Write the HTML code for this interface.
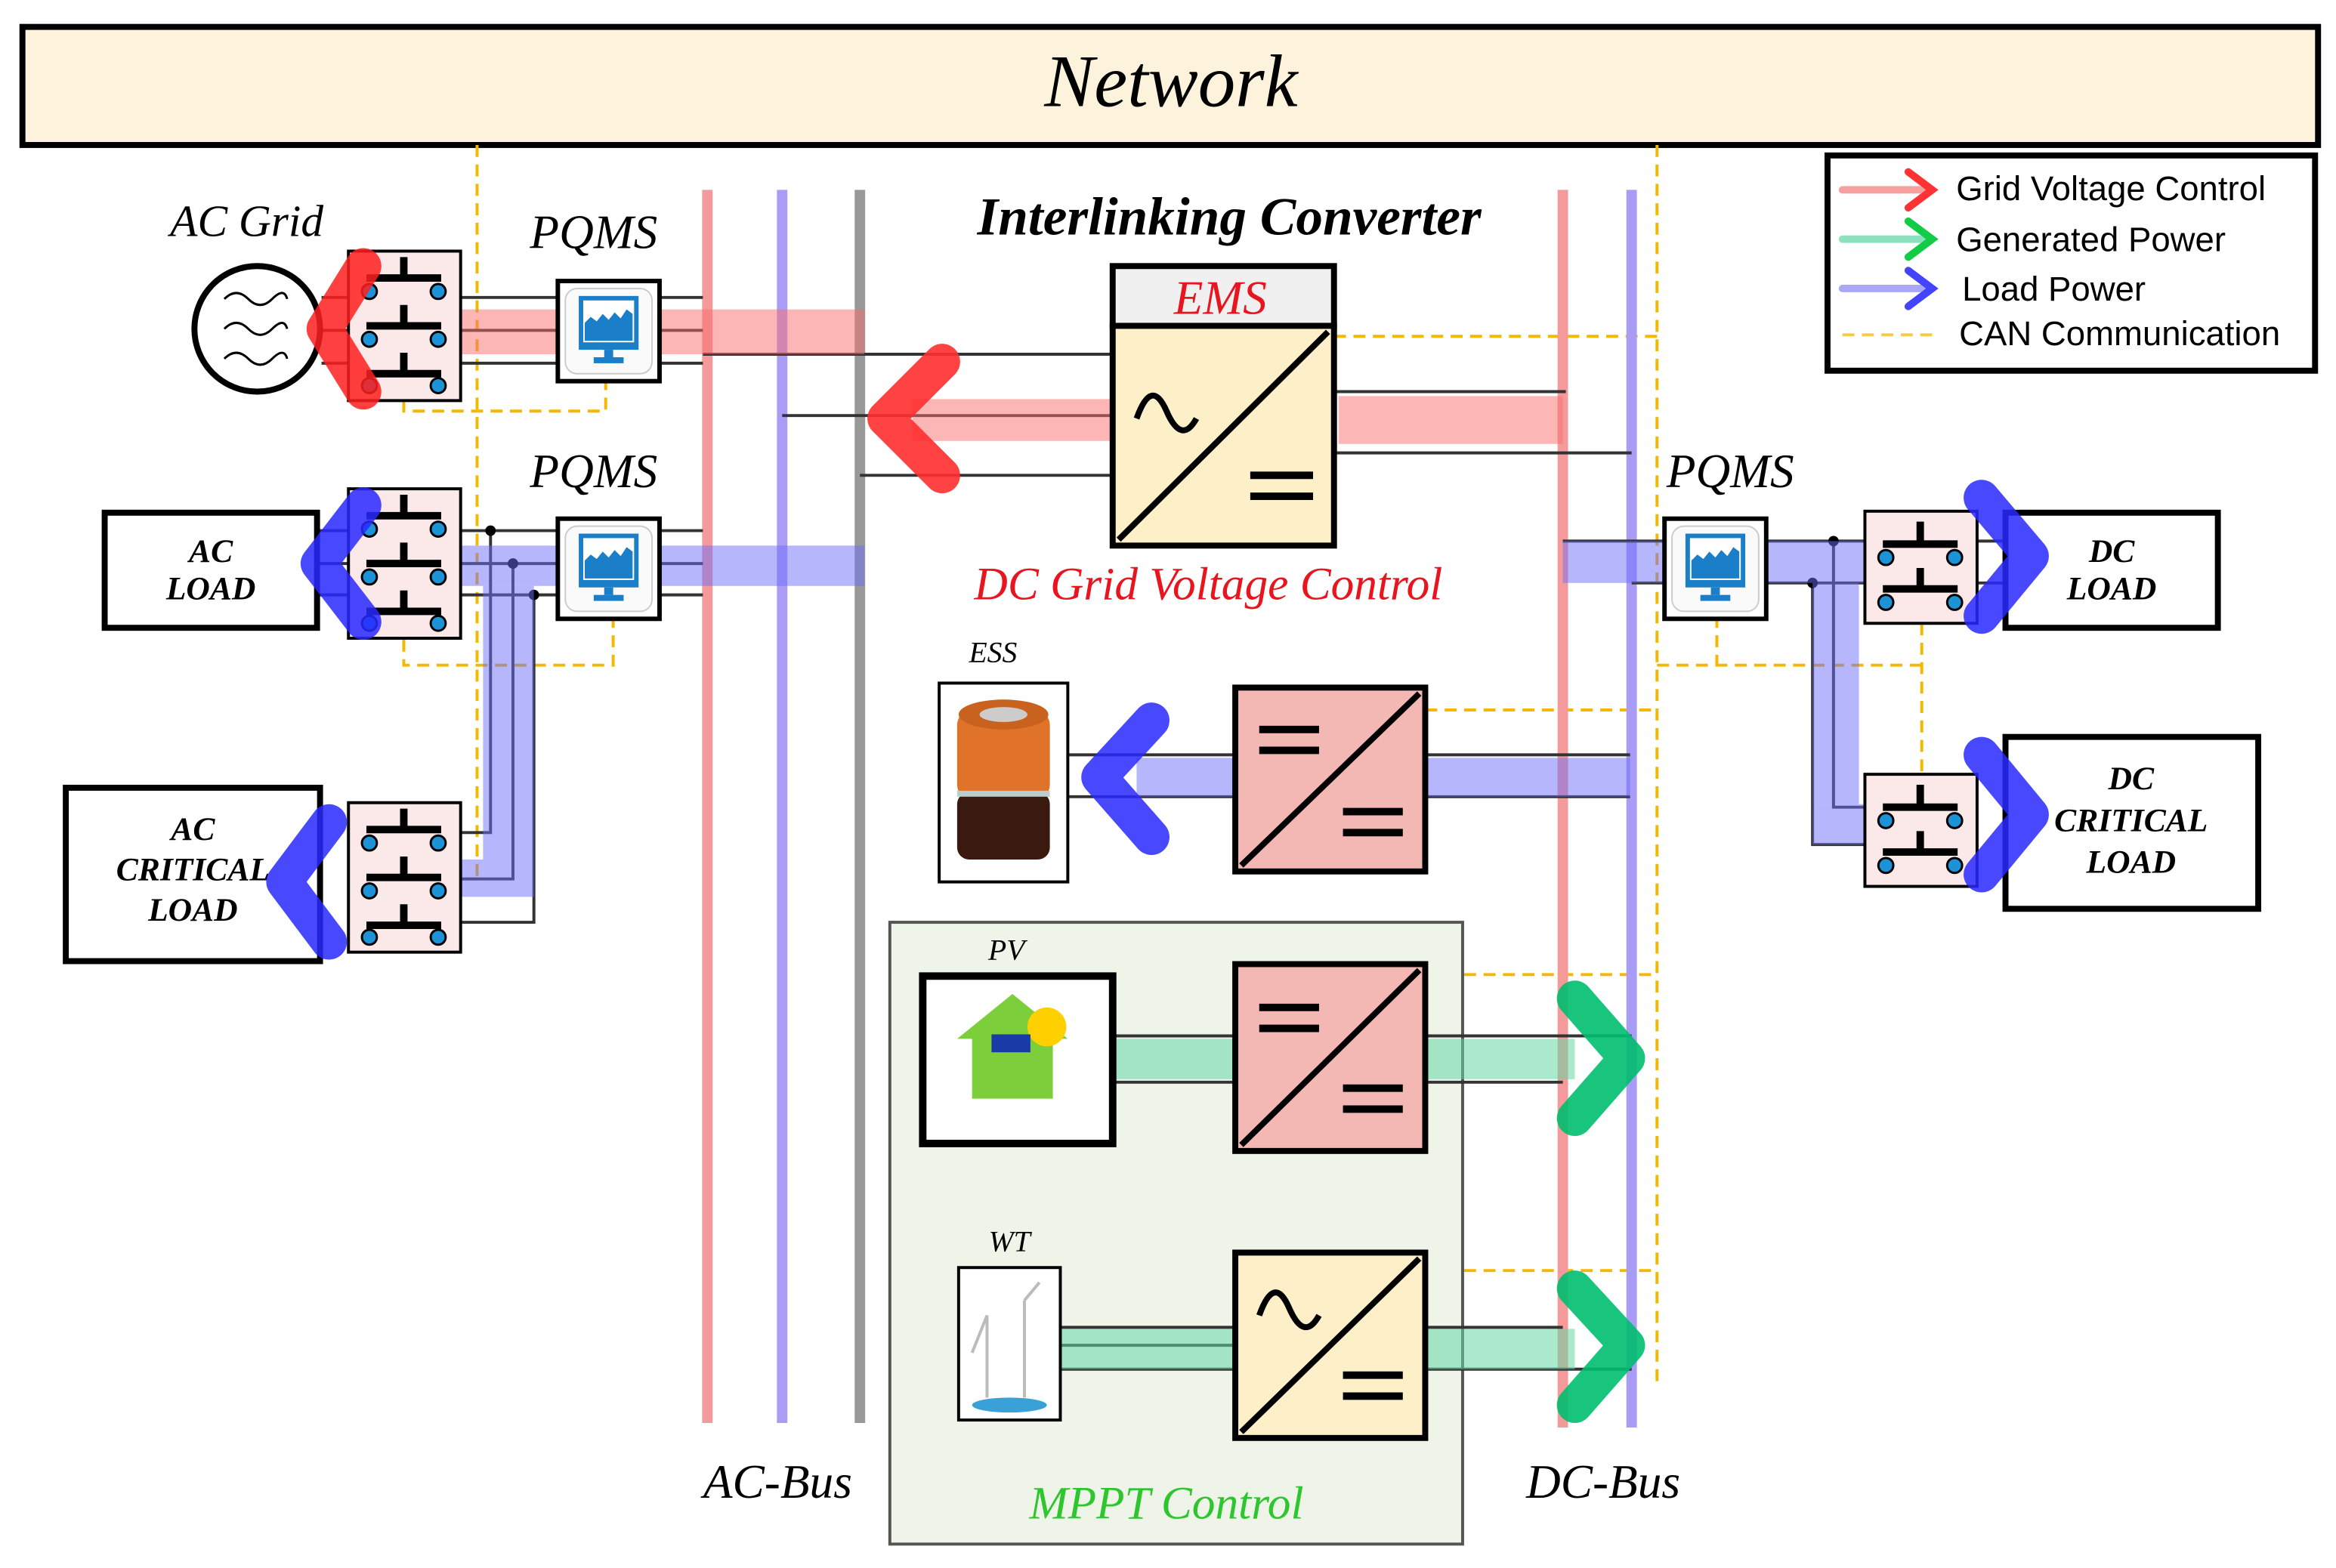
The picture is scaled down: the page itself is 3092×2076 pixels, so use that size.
<!DOCTYPE html>
<html><head><meta charset="utf-8"><style>
html,body{margin:0;padding:0;background:#fff}
svg{display:block}
text{font-family:"Liberation Serif",serif;font-style:italic;font-weight:bold}
.l{font-family:"Liberation Sans",sans-serif;font-style:normal;font-weight:normal}
</style></head><body>
<svg width="3092" height="2076" viewBox="0 0 1562 1049" preserveAspectRatio="none" xmlns="http://www.w3.org/2000/svg">
<defs>
<g id="sw3">
<rect x="0" y="0" width="75" height="100" fill="#fbe9e9" stroke="#000" stroke-width="2"/>
<g stroke="#000" stroke-width="5"><line x1="37" y1="4" x2="37" y2="18"/><line x1="12" y1="18" x2="62" y2="18"/>
<line x1="37" y1="36" x2="37" y2="50"/><line x1="12" y1="50" x2="62" y2="50"/>
<line x1="37" y1="68" x2="37" y2="82"/><line x1="12" y1="82" x2="62" y2="82"/></g>
<g fill="#1b93d6" stroke="#000" stroke-width="1.5"><circle cx="14" cy="27" r="5"/><circle cx="60" cy="27" r="5"/><circle cx="14" cy="59" r="5"/><circle cx="60" cy="59" r="5"/><circle cx="14" cy="90" r="5"/><circle cx="60" cy="90" r="5"/></g>
</g>
<g id="sw2">
<rect x="0" y="0" width="75" height="75" fill="#fbe9e9" stroke="#000" stroke-width="2"/>
<g stroke="#000" stroke-width="5"><line x1="37" y1="7" x2="37" y2="22"/><line x1="12" y1="22" x2="62" y2="22"/>
<line x1="37" y1="38" x2="37" y2="52"/><line x1="12" y1="52" x2="62" y2="52"/></g>
<g fill="#1b93d6" stroke="#000" stroke-width="1.5"><circle cx="14" cy="31" r="5"/><circle cx="60" cy="31" r="5"/><circle cx="14" cy="61" r="5"/><circle cx="60" cy="61" r="5"/></g>
</g>
<g id="mon">
<rect x="0" y="0" width="68" height="67" fill="#fff" stroke="#000" stroke-width="3"/>
<rect x="5" y="5" width="58" height="57" rx="8" fill="#fafafa" stroke="#ccc"/>
<rect x="14" y="10" width="40" height="36" fill="#1a7fc8"/>
<rect x="17" y="13" width="34" height="28" fill="#fff"/>
<path d="M18 40 L18 28 L22 24 L26 27 L30 22 L34 26 L38 21 L42 25 L46 19 L50 22 L50 40Z" fill="#1a7fc8"/>
<rect x="31" y="46" width="6" height="5" fill="#1a7fc8"/><rect x="24" y="51" width="20" height="4" fill="#1a7fc8"/>
</g>
</defs>

<!-- Network -->
<rect x="15" y="18" width="1535" height="79" fill="#fdf3dc" stroke="#000" stroke-width="4"/>
<text x="783" y="71" text-anchor="middle" font-size="50" style="font-weight:normal">Network</text>

<!-- dashed CAN -->
<g stroke="#f5b800" stroke-width="2" stroke-dasharray="8 5" fill="none">
<line x1="319" y1="97" x2="319" y2="590"/><line x1="319" y1="588" x2="308" y2="588"/>
<polyline points="270,268 270,275 405,275 405,255"/>
<polyline points="270,428 270,445 410,445 410,412"/>
<line x1="1108" y1="97" x2="1108" y2="925"/>
<line x1="892" y1="225" x2="1108" y2="225"/>
<line x1="953" y1="475" x2="1108" y2="475"/>
<line x1="953" y1="652" x2="1108" y2="652"/>
<line x1="953" y1="850" x2="1108" y2="850"/>
<line x1="1108" y1="445" x2="1285" y2="445"/>
<line x1="1148" y1="412" x2="1148" y2="445"/>
<line x1="1285" y1="417" x2="1285" y2="518"/>
</g>

<!-- MPPT box -->
<rect x="595" y="617" width="383" height="416" fill="#eef4e8" stroke="#555" stroke-width="2"/>

<!-- buses -->
<g stroke-width="7">
<line x1="473" y1="127" x2="473" y2="952" stroke="#f59a9a"/>
<line x1="523" y1="127" x2="523" y2="952" stroke="#a89cf5"/>
<line x1="575" y1="127" x2="575" y2="952" stroke="#999"/>
<line x1="1045" y1="127" x2="1045" y2="955" stroke="#f59a9a"/>
<line x1="1091" y1="127" x2="1091" y2="955" stroke="#a89cf5"/>
</g>

<!-- thin lines -->
<g stroke="#333" stroke-width="2" fill="none">
<line x1="215" y1="199" x2="470" y2="199"/><line x1="215" y1="221" x2="470" y2="221"/><line x1="215" y1="243" x2="470" y2="243"/>
<line x1="470" y1="237" x2="744" y2="237"/><line x1="523" y1="278" x2="744" y2="278"/><line x1="575" y1="318" x2="744" y2="318"/>
<line x1="892" y1="262" x2="1047" y2="262"/><line x1="892" y1="303" x2="1091" y2="303"/>
<line x1="213" y1="355" x2="470" y2="355"/><line x1="213" y1="377" x2="470" y2="377"/><line x1="213" y1="398" x2="470" y2="398"/>
<polyline points="328,355 328,557 308,557"/><polyline points="343,377 343,588 308,588"/><polyline points="357,398 357,617 308,617"/>
<line x1="1045" y1="362" x2="1340" y2="362"/><line x1="1091" y1="390" x2="1340" y2="390"/>
<polyline points="1226,362 1226,540 1250,540"/><polyline points="1212,390 1212,565 1250,565"/>
<line x1="714" y1="505" x2="826" y2="505"/><line x1="714" y1="533" x2="826" y2="533"/>
<line x1="953" y1="505" x2="1090" y2="505"/><line x1="953" y1="533" x2="1090" y2="533"/>
<line x1="744" y1="693" x2="826" y2="693"/><line x1="744" y1="724" x2="826" y2="724"/>
<line x1="953" y1="693" x2="1091" y2="693"/><line x1="953" y1="724" x2="1045" y2="724"/>
<line x1="709" y1="888" x2="826" y2="888"/><line x1="709" y1="900" x2="826" y2="900"/><line x1="709" y1="916" x2="826" y2="916"/>
<line x1="953" y1="888" x2="1045" y2="888"/><line x1="953" y1="916" x2="1091" y2="916"/>
</g>
<g fill="#000"><circle cx="328" cy="355" r="3.5"/><circle cx="343" cy="377" r="3.5"/><circle cx="357" cy="398" r="3.5"/><circle cx="1226" cy="362" r="3.5"/><circle cx="1212" cy="390" r="3.5"/></g>

<!-- bands -->
<g fill="rgba(250,110,110,0.5)">
<rect x="308" y="207" width="270" height="30"/><rect x="610" y="267" width="134" height="28"/><rect x="895" y="265" width="150" height="32"/>
</g>
<g fill="rgba(110,110,250,0.5)">
<rect x="308" y="365" width="270" height="27"/><rect x="323" y="392" width="34" height="208"/><rect x="233" y="575" width="90" height="25"/>
<rect x="760" y="507" width="66" height="26"/><rect x="953" y="507" width="137" height="26"/>
<rect x="1045" y="362" width="205" height="28"/><rect x="1212" y="390" width="31" height="148"/><rect x="1212" y="538" width="38" height="27"/>
</g>
<g fill="rgba(100,215,165,0.55)">
<rect x="744" y="695" width="82" height="27"/><rect x="953" y="695" width="100" height="27"/>
<rect x="709" y="889" width="117" height="27"/><rect x="953" y="889" width="100" height="27"/>
</g>

<!-- AC grid -->
<circle cx="172" cy="220" r="42" fill="#fff" stroke="#000" stroke-width="4"/>
<g fill="none" stroke="#000" stroke-width="1.5">
<path d="M150 200 q8 -8 16 0 t16 0 t10 0"/><path d="M150 220 q8 -8 16 0 t16 0 t10 0"/><path d="M150 240 q8 -8 16 0 t16 0 t10 0"/></g>
<use href="#sw3" x="233" y="168"/>
<use href="#sw3" x="233" y="327"/>
<use href="#sw3" x="233" y="537"/>
<use href="#sw2" x="1247" y="342"/>
<use href="#sw2" x="1247" y="518"/>
<use href="#mon" x="373" y="188"/>
<use href="#mon" x="373" y="347"/>
<use href="#mon" x="1113" y="347"/>

<!-- load boxes -->
<rect x="70" y="343" width="142" height="77" fill="#fff" stroke="#000" stroke-width="4"/>
<text x="141" y="376" text-anchor="middle" font-size="22">AC</text><text x="141" y="401" text-anchor="middle" font-size="22">LOAD</text>
<rect x="44" y="527" width="170" height="116" fill="#fff" stroke="#000" stroke-width="4"/>
<text x="129" y="562" text-anchor="middle" font-size="22">AC</text><text x="129" y="589" text-anchor="middle" font-size="22">CRITICAL</text><text x="129" y="616" text-anchor="middle" font-size="22">LOAD</text>
<rect x="1341" y="343" width="142" height="77" fill="#fff" stroke="#000" stroke-width="4"/>
<text x="1412" y="376" text-anchor="middle" font-size="22">DC</text><text x="1412" y="401" text-anchor="middle" font-size="22">LOAD</text>
<rect x="1341" y="493" width="169" height="115" fill="#fff" stroke="#000" stroke-width="4"/>
<text x="1425" y="528" text-anchor="middle" font-size="22">DC</text><text x="1425" y="556" text-anchor="middle" font-size="22">CRITICAL</text><text x="1425" y="584" text-anchor="middle" font-size="22">LOAD</text>

<!-- Interlinking converter -->
<rect x="744" y="178" width="148" height="40" fill="#f0f0f0" stroke="#000" stroke-width="4"/>
<text x="816" y="210" text-anchor="middle" font-size="32" fill="#e8141e" style="font-weight:normal">EMS</text>
<rect x="744" y="218" width="148" height="147" fill="#fdf0c8" stroke="#000" stroke-width="4"/>
<line x1="748" y1="361" x2="888" y2="222" stroke="#000" stroke-width="4"/>
<path d="M760 280 q10 -28 20 -5 t20 5" fill="none" stroke="#000" stroke-width="4"/>
<g stroke="#000" stroke-width="5"><line x1="836" y1="318" x2="878" y2="318"/><line x1="836" y1="332" x2="878" y2="332"/></g>

<!-- ESS -->
<rect x="628" y="457" width="86" height="133" fill="#fff" stroke="#000" stroke-width="2"/>
<rect x="640" y="475" width="62" height="60" rx="10" fill="#e07328"/>
<ellipse cx="671" cy="478" rx="30" ry="10" fill="#c9621e"/><ellipse cx="671" cy="478" rx="16" ry="5" fill="#ccc"/>
<rect x="640" y="530" width="62" height="45" rx="8" fill="#3a1a0e"/><rect x="640" y="529" width="62" height="4" fill="#bcc"/>
<text x="664" y="443" text-anchor="middle" font-size="20" style="font-weight:normal">ESS</text>
<rect x="826" y="460" width="127" height="123" fill="#f3b8b4" stroke="#000" stroke-width="4"/>
<line x1="830" y1="579" x2="949" y2="464" stroke="#000" stroke-width="4"/>
<g stroke="#000" stroke-width="5"><line x1="842" y1="488" x2="882" y2="488"/><line x1="842" y1="502" x2="882" y2="502"/><line x1="898" y1="543" x2="938" y2="543"/><line x1="898" y1="557" x2="938" y2="557"/></g>

<!-- PV -->
<rect x="617" y="653" width="127" height="112" fill="#fff" stroke="#000" stroke-width="5"/>
<path d="M650 735 L650 695 L640 695 L677 665 L714 695 L704 695 L704 735Z" fill="#7ccf3a"/>
<circle cx="700" cy="687" r="13" fill="#ffd000"/>
<rect x="663" y="692" width="26" height="12" fill="#1a3aa8"/>
<text x="673" y="642" text-anchor="middle" font-size="20" style="font-weight:normal">PV</text>
<rect x="826" y="645" width="127" height="125" fill="#f3b8b4" stroke="#000" stroke-width="4"/>
<line x1="830" y1="766" x2="949" y2="649" stroke="#000" stroke-width="4"/>
<g stroke="#000" stroke-width="5"><line x1="842" y1="674" x2="882" y2="674"/><line x1="842" y1="688" x2="882" y2="688"/><line x1="898" y1="728" x2="938" y2="728"/><line x1="898" y1="742" x2="938" y2="742"/></g>

<!-- WT -->
<rect x="641" y="848" width="68" height="102" fill="#fff" stroke="#000" stroke-width="2"/>
<g stroke="#bbb" stroke-width="2"><line x1="660" y1="880" x2="660" y2="935"/><line x1="685" y1="870" x2="685" y2="935"/><line x1="660" y1="880" x2="650" y2="905"/><line x1="685" y1="870" x2="695" y2="858"/></g>
<ellipse cx="675" cy="940" rx="25" ry="5" fill="#3aa0d8"/>
<text x="675" y="837" text-anchor="middle" font-size="20" style="font-weight:normal">WT</text>
<rect x="826" y="838" width="127" height="124" fill="#fdf0c8" stroke="#000" stroke-width="4"/>
<line x1="830" y1="958" x2="949" y2="842" stroke="#000" stroke-width="4"/>
<path d="M842 880 q10 -28 20 -5 t20 5" fill="none" stroke="#000" stroke-width="4"/>
<g stroke="#000" stroke-width="5"><line x1="898" y1="920" x2="938" y2="920"/><line x1="898" y1="934" x2="938" y2="934"/></g>

<!-- chevrons -->
<g fill="none" stroke-linecap="round" stroke-linejoin="round" stroke-width="24">
<polyline points="243,178 217,220 243,262" stroke="rgba(255,30,30,0.85)"/>
<polyline points="630,242 592,280 630,318" stroke="rgba(255,45,45,0.9)"/>
<polyline points="243,338 213,377 243,416" stroke="rgba(40,40,255,0.85)"/>
<polyline points="220,550 190,590 220,630" stroke="rgba(40,40,255,0.85)"/>
<polyline points="770,482 735,520 770,560" stroke="rgba(40,40,255,0.85)"/>
<polyline points="1325,333 1358,372 1325,412" stroke="rgba(40,40,255,0.85)"/>
<polyline points="1325,505 1358,545 1325,585" stroke="rgba(40,40,255,0.85)"/>
<polyline points="1053,668 1088,708 1053,748" stroke="rgba(0,190,110,0.9)"/>
<polyline points="1053,862 1088,900 1053,940" stroke="rgba(0,190,110,0.9)"/>
</g>

<!-- labels -->
<text x="165" y="158" text-anchor="middle" font-size="30" style="font-weight:normal">AC Grid</text>
<text x="397" y="166" text-anchor="middle" font-size="32" style="font-weight:normal">PQMS</text>
<text x="397" y="326" text-anchor="middle" font-size="32" style="font-weight:normal">PQMS</text>
<text x="1157" y="326" text-anchor="middle" font-size="32" style="font-weight:normal">PQMS</text>
<text x="822" y="157" text-anchor="middle" font-size="36">Interlinking Converter</text>
<text x="808" y="401" text-anchor="middle" font-size="31" fill="#e8141e" style="font-weight:normal">DC Grid Voltage Control</text>
<text x="520" y="1002" text-anchor="middle" font-size="32" style="font-weight:normal">AC-Bus</text>
<text x="1072" y="1002" text-anchor="middle" font-size="32" style="font-weight:normal">DC-Bus</text>
<text x="780" y="1016" text-anchor="middle" font-size="31" fill="#2ec62e" style="font-weight:normal">MPPT Control</text>

<!-- legend -->
<rect x="1222" y="104" width="326" height="144" fill="#fff" stroke="#000" stroke-width="4"/>
<g fill="none" stroke-width="5" stroke-linecap="round">
<line x1="1232" y1="127" x2="1290" y2="127" stroke="#f7a0a0"/><polyline points="1276,115 1292,127 1276,139" stroke="#f33"/>
<line x1="1232" y1="160" x2="1290" y2="160" stroke="#8de0c0"/><polyline points="1276,148 1292,160 1276,172" stroke="#1c4"/>
<line x1="1232" y1="193" x2="1290" y2="193" stroke="#aaa8f5"/><polyline points="1276,181 1292,193 1276,205" stroke="#44f"/>
</g>
<line x1="1232" y1="224" x2="1295" y2="224" stroke="#f5c94a" stroke-width="2" stroke-dasharray="8 5"/>
<g class="l" font-size="23" fill="#000">
<text class="l" x="1308" y="134">Grid Voltage Control</text>
<text class="l" x="1308" y="168">Generated Power</text>
<text class="l" x="1312" y="201">Load Power</text>
<text class="l" x="1310" y="231">CAN Communication</text>
</g>
</svg>
</body></html>
